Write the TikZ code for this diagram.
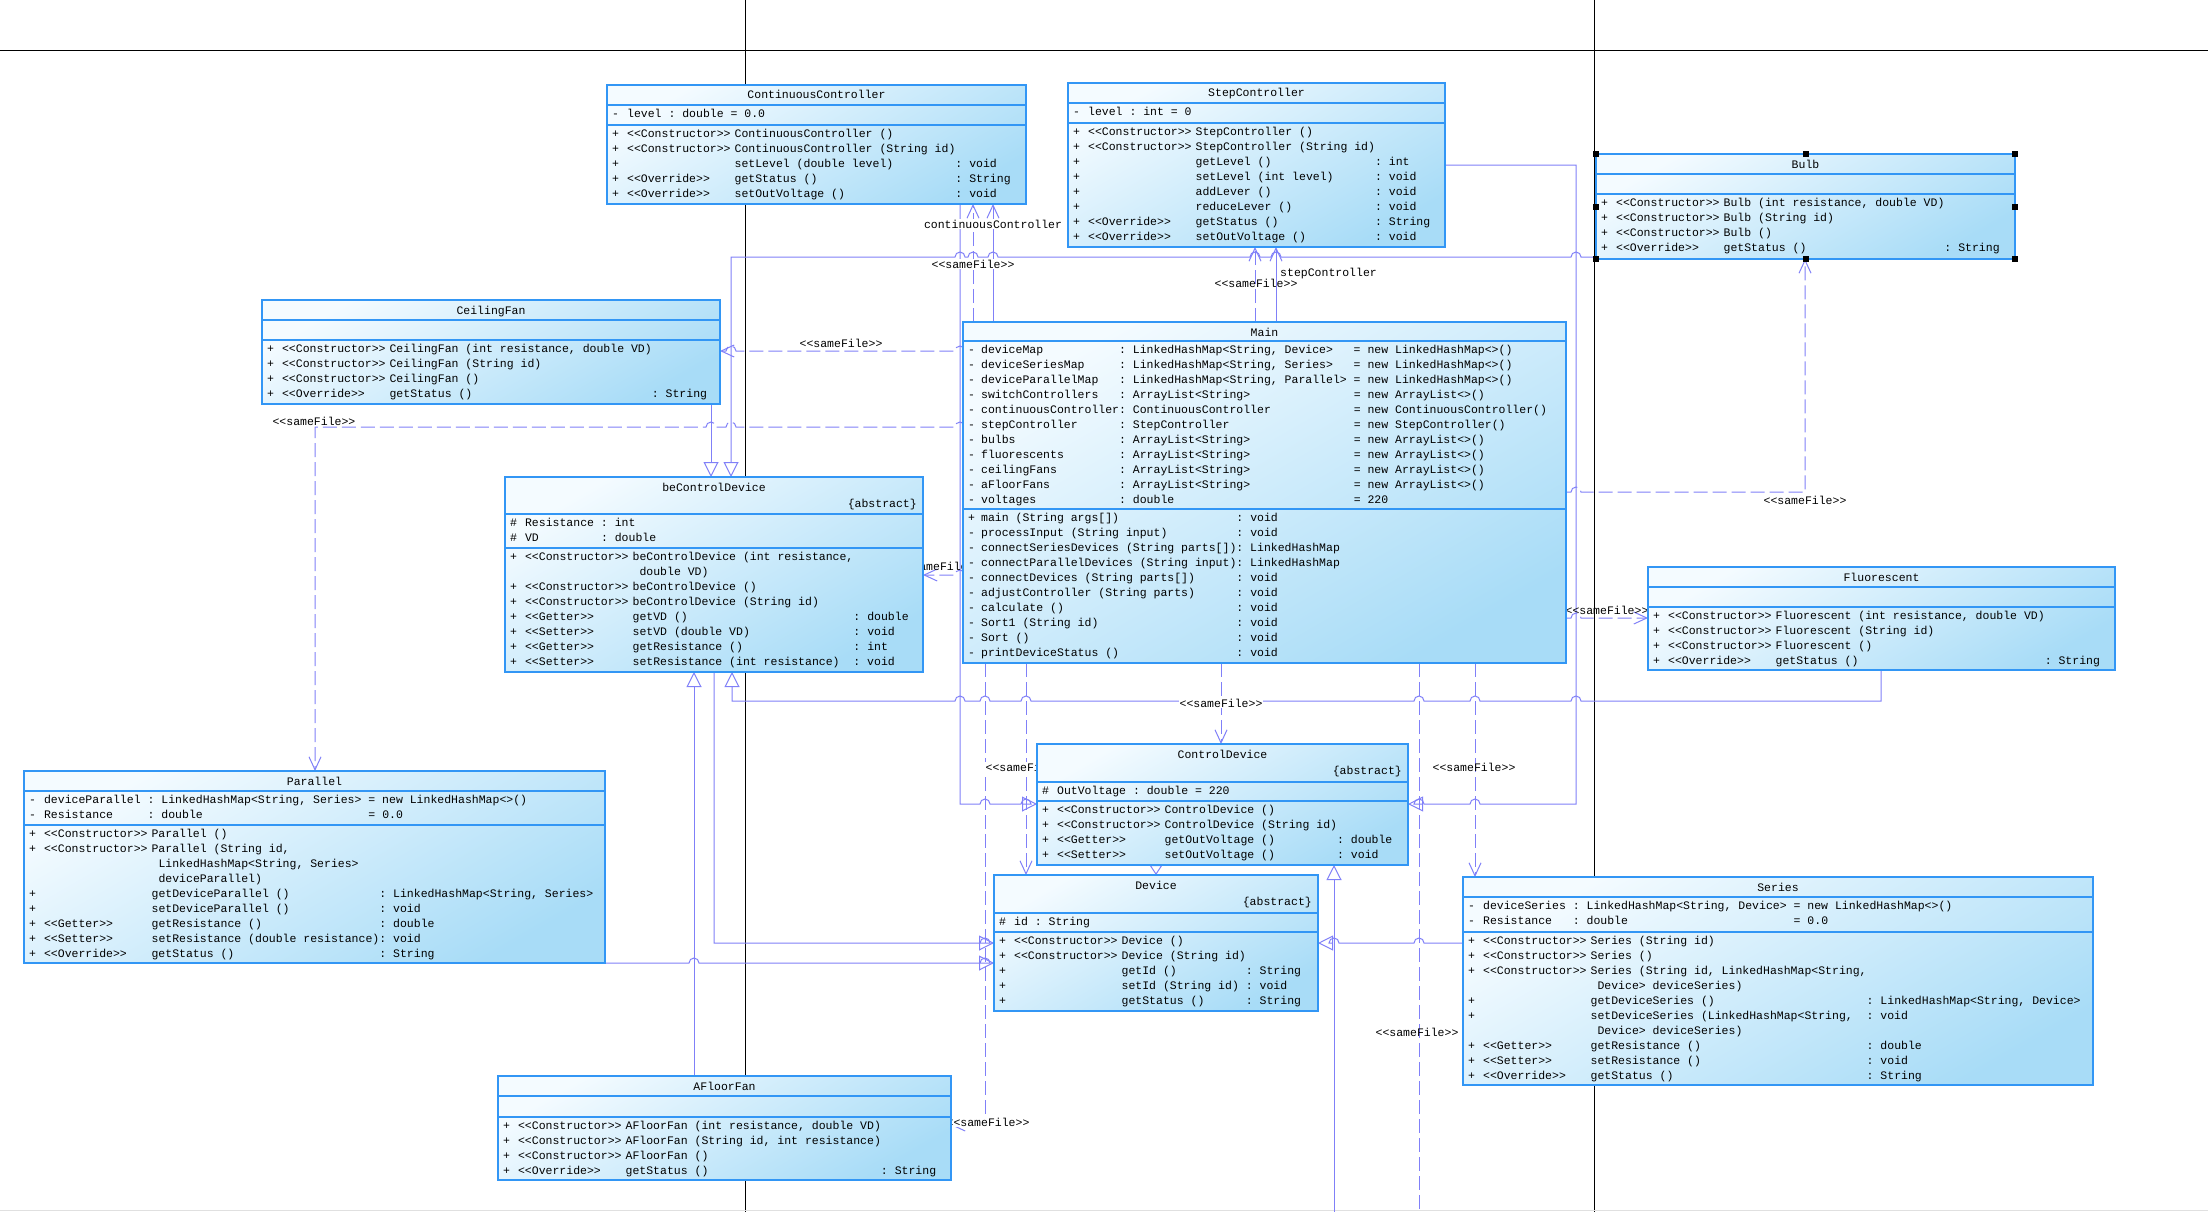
\documentclass[tikz,border=0pt]{standalone}
\usepackage{fontspec}
\setmonofont{Liberation Mono}
\usepackage{tikz}
\usetikzlibrary{arrows.meta,backgrounds}
\definecolor{umlborder}{HTML}{3296F5}
\definecolor{umltop}{HTML}{F4FBFF}
\definecolor{umlbottom}{HTML}{A8DCF7}
\definecolor{linkblue}{HTML}{8080F8}
\pgfdeclarelayer{links}
\pgfsetlayers{background,links,main}
\newcommand{\umltext}{\ttfamily\fontsize{11.5}{15}\selectfont}
% line jumps: rightward / leftward hop over a vertical line at x=#1
\newcommand{\hopr}[2]{-- (#1-5,#2) arc[start angle=180,end angle=0,radius=5pt]}
\newcommand{\hopl}[2]{-- (#1+5,#2) arc[start angle=0,end angle=180,radius=5pt]}

\begin{document}
\begin{tikzpicture}[x=1pt, y=-1pt,
    classbox/.style={draw=umlborder, line width=1.2pt, top color=umltop, bottom color=umlbottom,
                     shading angle=30, anchor=north west, inner sep=0pt, outer sep=0pt},
    compline/.style={draw=umlborder, line width=1.2pt},
    classname/.style={font=\umltext, anchor=base, inner sep=0pt},
    abstr/.style={font=\umltext, anchor=base east, inner sep=0pt},
    members/.style={font=\umltext, anchor=north west, inner sep=0pt},
    gen/.style={draw=linkblue, line width=1pt, -{Triangle[open, length=15pt, width=15pt]}},
    dep/.style={draw=linkblue, line width=1pt, dash pattern=on 14pt off 5pt,
                -{Straight Barb[length=13pt, width=12pt]}},
    assoc/.style={draw=linkblue, line width=1pt, -{Straight Barb[length=13pt, width=12pt]}},
    lbl/.style={font=\umltext, inner sep=1pt},
    pageline/.style={draw=black, line width=1pt}
]

% --- page ---
\useasboundingbox (0,0) rectangle (2208,1212);
\begin{pgfonlayer}{background}
\fill[white] (0,0) rectangle (2208,1212);
\draw[pageline] (0,51) -- (2208,51);
\draw[pageline] (745,0) -- (745,1212);
\draw[pageline] (1594,0) -- (1594,1212);
\draw[black!12] (0,1210) -- (2208,1210);
\end{pgfonlayer}

% --- ContinuousController ---
\node[classbox, minimum width=419, minimum height=119] (cc) at (607,85) {};
\draw[compline] (cc.west |- 0,105) -- (cc.east |- 0,105);
\draw[compline] (cc.west |- 0,125) -- (cc.east |- 0,125);
\node[classname] (cc-name) at (cc.north |- 0,99) {ContinuousController};
\node[members] (cc-attr) at (612,107) {\begin{tabular}{@{}l@{\hspace{8pt}}l@{\ }l@{\ }l@{}}
- & level & : double & = 0.0
\end{tabular}};
\node[members] (cc-ops) at (612,127) {\begin{tabular}{@{}l@{\hspace{8pt}}l@{\hspace{4pt}}l@{}l@{}}
+ & <<Constructor>> & ContinuousController () & \\
+ & <<Constructor>> & ContinuousController (String id) & \\
+ & & setLevel (double level) & : void \\
+ & <<Override>> & getStatus () & : String \\
+ & <<Override>> & setOutVoltage () & : void
\end{tabular}};

% --- StepController ---
\node[classbox, minimum width=377, minimum height=164] (sc) at (1068,83) {};
\draw[compline] (sc.west |- 0,103) -- (sc.east |- 0,103);
\draw[compline] (sc.west |- 0,123) -- (sc.east |- 0,123);
\node[classname] (sc-name) at (sc.north |- 0,97) {StepController};
\node[members] (sc-attr) at (1073,105) {\begin{tabular}{@{}l@{\hspace{8pt}}l@{\ }l@{\ }l@{}}
- & level & : int & = 0
\end{tabular}};
\node[members] (sc-ops) at (1073,125) {\begin{tabular}{@{}l@{\hspace{8pt}}l@{\hspace{4pt}}l@{}l@{}}
+ & <<Constructor>> & StepController () & \\
+ & <<Constructor>> & StepController (String id) & \\
+ & & getLevel () & : int \\
+ & & setLevel (int level) & : void \\
+ & & addLever () & : void \\
+ & & reduceLever () & : void \\
+ & <<Override>> & getStatus () & : String \\
+ & <<Override>> & setOutVoltage () & : void
\end{tabular}};

% --- Bulb ---
\node[classbox, minimum width=419, minimum height=105] (bulb) at (1596,154) {};
\draw[compline] (bulb.west |- 0,174) -- (bulb.east |- 0,174);
\draw[compline] (bulb.west |- 0,194) -- (bulb.east |- 0,194);
\node[classname] (bulb-name) at (bulb.north |- 0,168) {Bulb};
\node[members] (bulb-ops) at (1601,196) {\begin{tabular}{@{}l@{\hspace{8pt}}l@{\hspace{4pt}}l@{}l@{}}
+ & <<Constructor>> & Bulb (int resistance, double VD) & \\
+ & <<Constructor>> & Bulb (String id) & \\
+ & <<Constructor>> & Bulb () & \\
+ & <<Override>> & getStatus () & : String
\end{tabular}};
\foreach \a in {north west, north, north east, west, east, south west, south, south east}
  \fill[black] (bulb.\a) +(-3,-3) rectangle +(3,3);

% --- CeilingFan ---
\node[classbox, minimum width=458, minimum height=104] (cf) at (262,300) {};
\draw[compline] (cf.west |- 0,320) -- (cf.east |- 0,320);
\draw[compline] (cf.west |- 0,340) -- (cf.east |- 0,340);
\node[classname] (cf-name) at (cf.north |- 0,314) {CeilingFan};
\node[members] (cf-ops) at (267,342) {\begin{tabular}{@{}l@{\hspace{8pt}}l@{\hspace{4pt}}l@{}l@{}}
+ & <<Constructor>> & CeilingFan (int resistance, double VD) & \\
+ & <<Constructor>> & CeilingFan (String id) & \\
+ & <<Constructor>> & CeilingFan () & \\
+ & <<Override>> & getStatus () & : String
\end{tabular}};

% --- Main ---
\node[classbox, minimum width=603, minimum height=341] (main) at (963,322) {};
\draw[compline] (main.west |- 0,341) -- (main.east |- 0,341);
\draw[compline] (main.west |- 0,509) -- (main.east |- 0,509);
\node[classname] (main-name) at (main.north |- 0,336) {Main};
\node[members] (main-attr) at (968,343) {\begin{tabular}{@{}l@{\hspace{6pt}}l@{}l@{\ }l@{}}
- & deviceMap & : LinkedHashMap<String, Device> & = new LinkedHashMap<>() \\
- & deviceSeriesMap & : LinkedHashMap<String, Series> & = new LinkedHashMap<>() \\
- & deviceParallelMap & : LinkedHashMap<String, Parallel> & = new LinkedHashMap<>() \\
- & switchControllers & : ArrayList<String> & = new ArrayList<>() \\
- & continuousController & : ContinuousController & = new ContinuousController() \\
- & stepController & : StepController & = new StepController() \\
- & bulbs & : ArrayList<String> & = new ArrayList<>() \\
- & fluorescents & : ArrayList<String> & = new ArrayList<>() \\
- & ceilingFans & : ArrayList<String> & = new ArrayList<>() \\
- & aFloorFans & : ArrayList<String> & = new ArrayList<>() \\
- & voltages & : double & = 220
\end{tabular}};
\node[members] (main-ops) at (968,511) {\begin{tabular}{@{}l@{\hspace{6pt}}l@{}l@{}}
+ & main (String args[]) & : void \\
- & processInput (String input) & : void \\
- & connectSeriesDevices (String parts[]) & : LinkedHashMap \\
- & connectParallelDevices (String input) & : LinkedHashMap \\
- & connectDevices (String parts[]) & : void \\
- & adjustController (String parts) & : void \\
- & calculate () & : void \\
- & Sort1 (String id) & : void \\
- & Sort () & : void \\
- & printDeviceStatus () & : void
\end{tabular}};

% --- beControlDevice ---
\node[classbox, minimum width=418, minimum height=195] (bcd) at (505,477) {};
\draw[compline] (bcd.west |- 0,514) -- (bcd.east |- 0,514);
\draw[compline] (bcd.west |- 0,548) -- (bcd.east |- 0,548);
\node[classname] (bcd-name) at (bcd.north |- 0,491) {beControlDevice};
\node[abstr] (bcd-abs) at (917,507) {\{abstract\}};
\node[members] (bcd-attr) at (510,516) {\begin{tabular}{@{}l@{\hspace{8pt}}l@{\ }l@{}}
\# & Resistance & : int \\
\# & VD & : double
\end{tabular}};
\node[members] (bcd-ops) at (510,550) {\begin{tabular}{@{}l@{\hspace{8pt}}l@{\hspace{4pt}}l@{}l@{}}
+ & <<Constructor>> & beControlDevice (int resistance, & \\
  & & \ double VD) & \\
+ & <<Constructor>> & beControlDevice () & \\
+ & <<Constructor>> & beControlDevice (String id) & \\
+ & <<Getter>> & getVD () & : double \\
+ & <<Setter>> & setVD (double VD) & : void \\
+ & <<Getter>> & getResistance () & : int \\
+ & <<Setter>> & setResistance (int resistance) & : void
\end{tabular}};

% --- Fluorescent ---
\node[classbox, minimum width=467, minimum height=103] (fl) at (1648,567) {};
\draw[compline] (fl.west |- 0,587) -- (fl.east |- 0,587);
\draw[compline] (fl.west |- 0,607) -- (fl.east |- 0,607);
\node[classname] (fl-name) at (fl.north |- 0,581) {Fluorescent};
\node[members] (fl-ops) at (1653,609) {\begin{tabular}{@{}l@{\hspace{8pt}}l@{\hspace{4pt}}l@{}l@{}}
+ & <<Constructor>> & Fluorescent (int resistance, double VD) & \\
+ & <<Constructor>> & Fluorescent (String id) & \\
+ & <<Constructor>> & Fluorescent () & \\
+ & <<Override>> & getStatus () & : String
\end{tabular}};

% --- ControlDevice ---
\node[classbox, minimum width=371, minimum height=121] (cd) at (1037,744) {};
\draw[compline] (cd.west |- 0,782) -- (cd.east |- 0,782);
\draw[compline] (cd.west |- 0,801) -- (cd.east |- 0,801);
\node[classname] (cd-name) at (cd.north |- 0,758) {ControlDevice};
\node[abstr] (cd-abs) at (1402,774) {\{abstract\}};
\node[members] (cd-attr) at (1042,784) {\begin{tabular}{@{}l@{\hspace{8pt}}l@{\ }l@{\ }l@{}}
\# & OutVoltage & : double & = 220
\end{tabular}};
\node[members] (cd-ops) at (1042,803) {\begin{tabular}{@{}l@{\hspace{8pt}}l@{\hspace{4pt}}l@{}l@{}}
+ & <<Constructor>> & ControlDevice () & \\
+ & <<Constructor>> & ControlDevice (String id) & \\
+ & <<Getter>> & getOutVoltage () & : double \\
+ & <<Setter>> & setOutVoltage () & : void
\end{tabular}};

% --- Parallel ---
\node[classbox, minimum width=581, minimum height=192] (par) at (24,771) {};
\draw[compline] (par.west |- 0,791) -- (par.east |- 0,791);
\draw[compline] (par.west |- 0,825) -- (par.east |- 0,825);
\node[classname] (par-name) at (par.north |- 0,785) {Parallel};
\node[members] (par-attr) at (29,793) {\begin{tabular}{@{}l@{\hspace{8pt}}l@{\ }l@{\ }l@{}}
- & deviceParallel & : LinkedHashMap<String, Series> & = new LinkedHashMap<>() \\
- & Resistance & : double & = 0.0
\end{tabular}};
\node[members] (par-ops) at (29,827) {\begin{tabular}{@{}l@{\hspace{8pt}}l@{\hspace{4pt}}l@{}l@{}}
+ & <<Constructor>> & Parallel () & \\
+ & <<Constructor>> & Parallel (String id, & \\
  & & \ LinkedHashMap<String, Series> & \\
  & & \ deviceParallel) & \\
+ & & getDeviceParallel () & : LinkedHashMap<String, Series> \\
+ & & setDeviceParallel () & : void \\
+ & <<Getter>> & getResistance () & : double \\
+ & <<Setter>> & setResistance (double resistance) & : void \\
+ & <<Override>> & getStatus () & : String
\end{tabular}};

% --- Device ---
\node[classbox, minimum width=324, minimum height=136] (dev) at (994,875) {};
\draw[compline] (dev.west |- 0,913) -- (dev.east |- 0,913);
\draw[compline] (dev.west |- 0,932) -- (dev.east |- 0,932);
\node[classname] (dev-name) at (dev.north |- 0,889) {Device};
\node[abstr] (dev-abs) at (1312,905) {\{abstract\}};
\node[members] (dev-attr) at (999,915) {\begin{tabular}{@{}l@{\hspace{8pt}}l@{\ }l@{}}
\# & id & : String
\end{tabular}};
\node[members] (dev-ops) at (999,934) {\begin{tabular}{@{}l@{\hspace{8pt}}l@{\hspace{4pt}}l@{}l@{}}
+ & <<Constructor>> & Device () & \\
+ & <<Constructor>> & Device (String id) & \\
+ & & getId () & : String \\
+ & & setId (String id) & : void \\
+ & & getStatus () & : String
\end{tabular}};

% --- Series ---
\node[classbox, minimum width=630, minimum height=208] (ser) at (1463,877) {};
\draw[compline] (ser.west |- 0,897) -- (ser.east |- 0,897);
\draw[compline] (ser.west |- 0,932) -- (ser.east |- 0,932);
\node[classname] (ser-name) at (ser.north |- 0,891) {Series};
\node[members] (ser-attr) at (1468,899) {\begin{tabular}{@{}l@{\hspace{8pt}}l@{\ }l@{\ }l@{}}
- & deviceSeries & : LinkedHashMap<String, Device> & = new LinkedHashMap<>() \\
- & Resistance & : double & = 0.0
\end{tabular}};
\node[members] (ser-ops) at (1468,934) {\begin{tabular}{@{}l@{\hspace{8pt}}l@{\hspace{4pt}}l@{}l@{}}
+ & <<Constructor>> & Series (String id) & \\
+ & <<Constructor>> & Series () & \\
+ & <<Constructor>> & Series (String id, LinkedHashMap<String, & \\
  & & \ Device> deviceSeries) & \\
+ & & getDeviceSeries () & : LinkedHashMap<String, Device> \\
+ & & setDeviceSeries (LinkedHashMap<String, & : void \\
  & & \ Device> deviceSeries) & \\
+ & <<Getter>> & getResistance () & : double \\
+ & <<Setter>> & setResistance () & : void \\
+ & <<Override>> & getStatus () & : String
\end{tabular}};

% --- AFloorFan ---
\node[classbox, minimum width=453, minimum height=104] (aff) at (498,1076) {};
\draw[compline] (aff.west |- 0,1096) -- (aff.east |- 0,1096);
\draw[compline] (aff.west |- 0,1117) -- (aff.east |- 0,1117);
\node[classname] (aff-name) at (aff.north |- 0,1090) {AFloorFan};
\node[members] (aff-ops) at (503,1119) {\begin{tabular}{@{}l@{\hspace{8pt}}l@{\hspace{4pt}}l@{}l@{}}
+ & <<Constructor>> & AFloorFan (int resistance, double VD) & \\
+ & <<Constructor>> & AFloorFan (String id, int resistance) & \\
+ & <<Constructor>> & AFloorFan () & \\
+ & <<Override>> & getStatus () & : String
\end{tabular}};

% --- off-page ends ---
\coordinate (offA) at (1334,1212);
\coordinate (offB) at (1419,1212);

\begin{pgfonlayer}{links}
% --- generalizations ---
\draw[gen] (cf.south -| 711,0) -- (bcd.north -| 711,0);
\draw[gen] (bulb.west |- 0,257) \hopl{1576}{257} \hopl{1276}{257} \hopl{1255}{257}
  \hopl{993}{257} \hopl{973}{257} \hopl{960}{257} -- (731,257) -- (bcd.north -| 731,0);
\draw[gen] (aff.north -| 694,0) -- (bcd.south -| 694,0);
\draw[gen] (fl.south -| 1881,0) -- (1881,701) \hopl{1576}{701} \hopl{1475}{701} \hopl{1419}{701}
  \hopl{1026}{701} \hopl{985}{701} \hopl{960}{701} -- (732,701) -- (bcd.south -| 732,0);
\draw[gen] (cc.south -| 960,0) -- (960,804) \hopr{985}{804} \hopr{1026}{804} -- (cd.west |- 0,804);
\draw[gen] (sc.east |- 0,165) -- (1576,165) -- (1576,804) \hopl{1475}{804} \hopl{1419}{804}
  -- (cd.east |- 0,804);
\draw[gen] (offA) -- (cd.south -| 1334,0);
\draw[gen, -{Triangle[open, length=10pt, width=13pt]}] (cd.south -| 1156,0) -- (dev.north -| 1156,0);
\draw[gen] (ser.west |- 0,943) \hopl{1419}{943} \hopl{1334}{943} -- (dev.east |- 0,943);
\draw[gen] (bcd.south -| 714,0) -- (714,943) \hopr{985}{943} -- (dev.west |- 0,943);
\draw[gen] (par.east |- 0,963) \hopr{694}{963} \hopr{985}{963} -- (dev.west |- 0,963);

% --- associations ---
\draw[assoc] (main.north -| 993,0) -- (cc.south -| 993,0);
\draw[assoc] (main.north -| 1276,0) -- (sc.south -| 1276,0);

% --- sameFile dependencies ---
\draw[dep] (main.north -| 973,0) -- (cc.south -| 973,0);
\draw[dep] (main.north -| 1255,0) -- (sc.south -| 1255,0);
\draw[dep] (main.west |- 0,351) \hopl{960}{351} \hopl{731}{351} -- (cf.east |- 0,351);
\draw[dep] (main.west |- 0,427) \hopl{960}{427} \hopl{731}{427} \hopl{711}{427} -- (315,427)
  -- (par.north -| 315,0);
\draw[dep] (main.west |- 0,575) \hopl{960}{575} -- (bcd.east |- 0,575);
\draw[dep] (main.east |- 0,492) \hopr{1576}{492} -- (1805,492) -- (bulb.south -| 1805,0);
\draw[dep] (main.east |- 0,618) \hopr{1576}{618} -- (fl.west |- 0,618);
\draw[dep] (main.south -| 1221,0) -- (cd.north -| 1221,0);
\draw[dep] (main.south -| 1026,0) -- (dev.north -| 1026,0);
\draw[dep] (main.south -| 1475,0) -- (ser.north -| 1475,0);
\draw[dep] (main.south -| 985,0) -- (985,1125) -- (aff.east |- 0,1125);
\draw[dep, -] (main.south -| 1419,0) -- (offB);

% --- labels ---
\node[lbl, fill=white] (l-cc1) at (993,224) {continuousController};
\node[lbl, fill=white] (l-cc2) at (973,264) {<<sameFile>>};
\node[lbl, anchor=west] (l-sc1) at (1279,274) {stepController};
\node[lbl] (l-sc2) at (1256,283) {<<sameFile>>};
\node[lbl] (l-cf) at (841,343) {<<sameFile>>};
\node[lbl] (l-par) at (314,421) {<<sameFile>>};
\node[lbl] (l-bcd) at (940,566) {<<sameFile>>};
\node[lbl] (l-bulb) at (1805,500) {<<sameFile>>};
\node[lbl] (l-fl) at (1607,610) {<<sameFile>>};
\node[lbl, fill=white] (l-cd) at (1221,703) {<<sameFile>>};
\node[lbl, fill=white] (l-dev) at (1027,767) {<<sameFile>>};
\node[lbl] (l-ser) at (1474,767) {<<sameFile>>};
\node[lbl] (l-off) at (1417,1032) {<<sameFile>>};
\node[lbl, fill=white] (l-aff) at (988,1122) {<<sameFile>>};
\end{pgfonlayer}

\end{tikzpicture}
\end{document}
